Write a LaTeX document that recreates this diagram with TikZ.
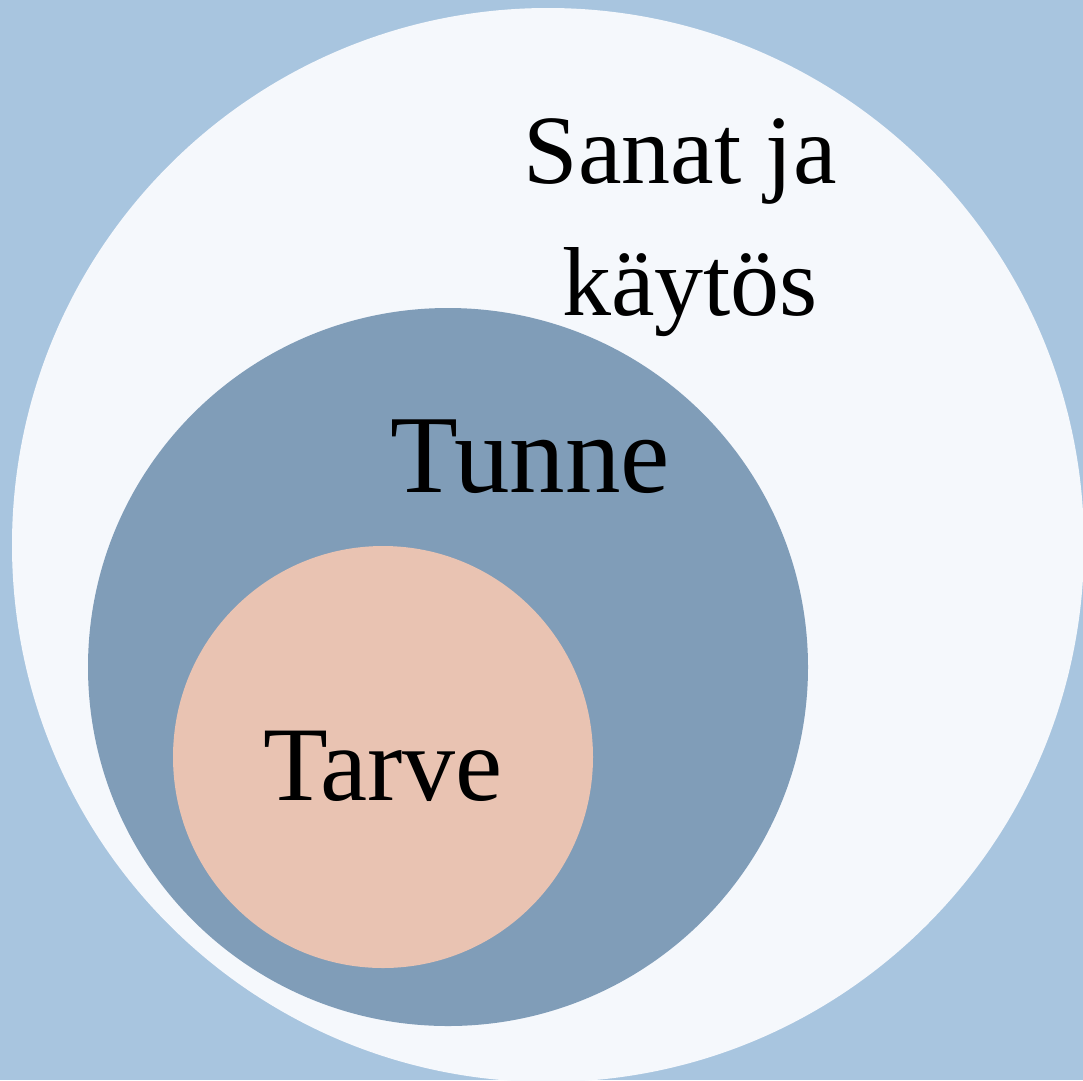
\documentclass[tikz,border=0pt]{standalone}
\usepackage{fontspec}
\setmainfont{Liberation Serif}
\definecolor{bgblue}{HTML}{A8C5DF}
\definecolor{outerc}{HTML}{F5F8FC}
\definecolor{midc}{HTML}{809DB8}
\definecolor{innerc}{HTML}{E9C3B2}
\tikzset{lbl/.style={anchor=base, inner sep=0pt, text=black}}
\begin{document}
\begin{tikzpicture}[x=1pt,y=-1pt]
\fill[bgblue] (0,0) rectangle (1083,1080);
\useasboundingbox (0,0) rectangle (1083,1080);
\fill[outerc] (548,545) ellipse [x radius=536, y radius=537];
\fill[midc] (448,667) ellipse [x radius=360, y radius=359];
\fill[innerc] (383,757) ellipse [x radius=210, y radius=211];
\node[lbl, font=\fontsize{98}{110}\selectfont] (sanat) at (680,183) {Sanat ja};
\node[lbl, font=\fontsize{98}{110}\selectfont] (kaytos) at (690,315) {käytös};
\node[lbl, font=\fontsize{111}{120}\selectfont] (tunne) at (530,492) {Tunne};
\node[lbl, font=\fontsize{106}{120}\selectfont] (tarve) at (383,800) {Tarve};
\end{tikzpicture}
\end{document}
